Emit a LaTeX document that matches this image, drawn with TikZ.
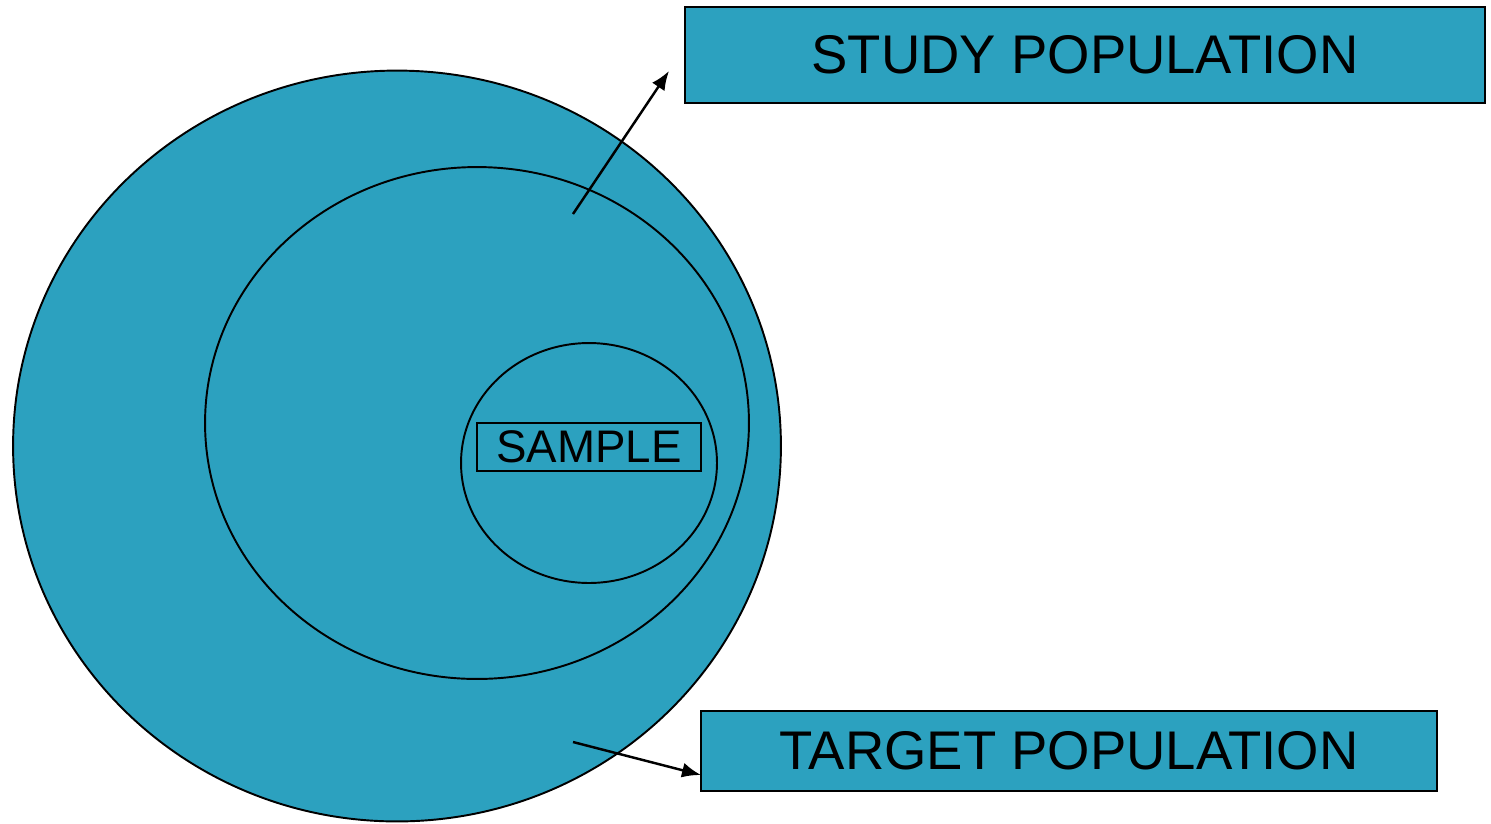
\documentclass[tikz,border=0pt]{standalone}
\usepackage{fontspec}
\setmainfont{Liberation Sans}
\usepackage{xcolor}
\usetikzlibrary{shapes,arrows.meta,positioning}

\definecolor{popblue}{RGB}{44,161,191}

\begin{document}
\begin{tikzpicture}[
  x=0.02cm, y=-0.02cm,
  ring/.style={ellipse, draw, line width=1.1pt, fill=popblue, inner sep=0pt},
  tag/.style={rectangle, draw, line width=1.3pt, fill=popblue, inner sep=0pt, font=\fontsize{31}{36}\selectfont},
  arrow/.style={-{Latex[length=0.38cm, width=0.3cm]}, line width=1.4pt}
]
\useasboundingbox (0,0) rectangle (1491,823);

% nested populations
\node[ring, minimum width=15.36cm, minimum height=15.02cm] (target-pop) at (397,446) {};
\node[ring, minimum width=10.88cm, minimum height=10.24cm] (study-pop) at (477,423) {};
\node[ring, minimum width=5.12cm, minimum height=4.8cm] (sample-pop) at (589,463) {};
\node[tag, line width=1.1pt, minimum width=4.48cm, minimum height=0.96cm, font=\fontsize{26}{30}\selectfont] (sample-label) at (589,447) {SAMPLE};

% labels on the right
\node[tag, minimum width=16cm, minimum height=1.92cm] (study-label) at (1085,55) {STUDY POPULATION};
\node[tag, minimum width=14.72cm, minimum height=1.6cm] (target-label) at (1069,751) {TARGET POPULATION};

% pointers
\coordinate (study-tail) at (573,214);
\coordinate (study-tip) at (669,71);
\coordinate (target-tail) at (573,742);
\coordinate (target-tip) at (701,775);
\draw[arrow] (study-tail) -- (study-tip);
\draw[arrow] (target-tail) -- (target-tip);

\end{tikzpicture}
\end{document}
